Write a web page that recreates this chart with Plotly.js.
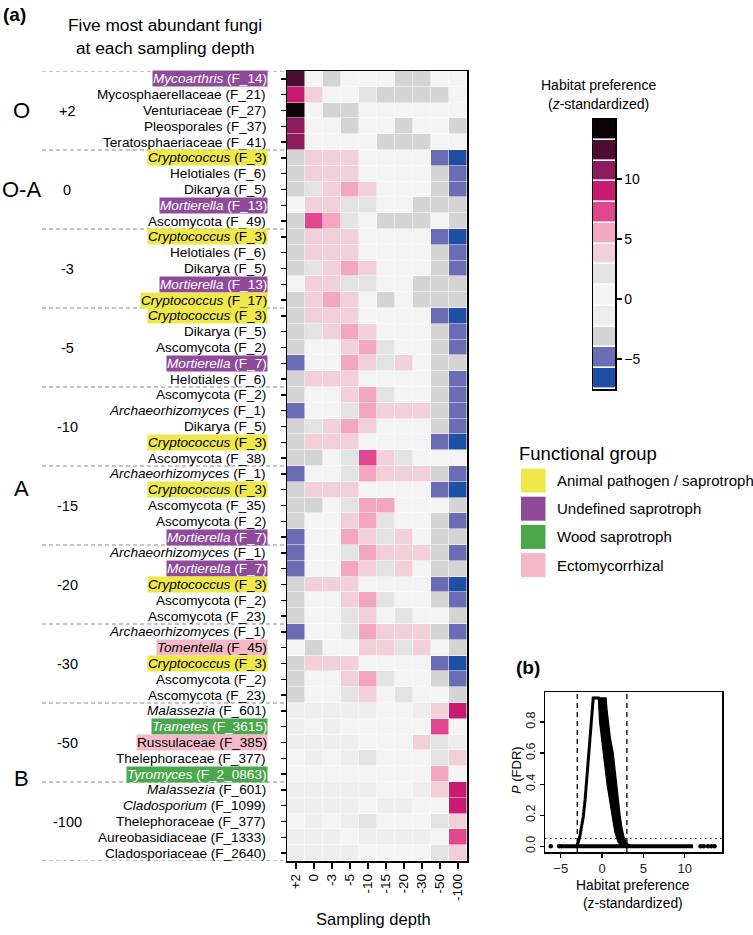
<!DOCTYPE html>
<html><head><meta charset="utf-8">
<script src="https://cdn.plot.ly/plotly-3.0.1.min.js"></script>
<style>html,body{margin:0;padding:0;background:#fff}#chart{width:753px;height:935px}</style>
</head><body><div id="chart"></div>
<script>
// ---------------- DATA ----------------
const depths = ["+2","0","-3","-5","-10","-15","-20","-30","-50","-100"];
const depthGroups = ["+2","0","-3","-5","-10","-15","-20","-30","-50","-100"];
const horizons = ["O","O-A","A","B"];

const taxa = [
"Mycoarthris","Mycosphaerellaceae","Venturiaceae","Pleosporales","Teratosphaeriaceae",
"Cryptococcus","Helotiales","Dikarya","Mortierella","Ascomycota",
"Cryptococcus","Helotiales","Dikarya","Mortierella","Cryptococcus",
"Cryptococcus","Dikarya","Ascomycota","Mortierella","Helotiales",
"Ascomycota","Archaeorhizomyces","Dikarya","Cryptococcus","Ascomycota",
"Archaeorhizomyces","Cryptococcus","Ascomycota","Ascomycota","Mortierella",
"Archaeorhizomyces","Mortierella","Cryptococcus","Ascomycota","Ascomycota",
"Archaeorhizomyces","Tomentella","Cryptococcus","Ascomycota","Ascomycota",
"Malassezia","Trametes","Russulaceae","Thelephoraceae","Tyromyces",
"Malassezia","Cladosporium","Thelephoraceae","Aureobasidiaceae","Cladosporiaceae"];
const otuIds = [
"F_14","F_21","F_27","F_37","F_41",
"F_3","F_6","F_5","F_13","F_49",
"F_3","F_6","F_5","F_13","F_17",
"F_3","F_5","F_2","F_7","F_6",
"F_2","F_1","F_5","F_3","F_38",
"F_1","F_3","F_35","F_2","F_7",
"F_1","F_7","F_3","F_2","F_23",
"F_1","F_45","F_3","F_2","F_23",
"F_601","F_3615","F_385","F_377","F_2_0863",
"F_601","F_1099","F_377","F_1333","F_2640"];
// functional group: A animal pathogen/saprotroph, U undefined saprotroph, W wood saprotroph, E ectomycorrhizal
const funcGroup = [
"U","","","","",
"A","","","U","",
"A","","","U","A",
"A","","","U","",
"","","","A","",
"","A","","","U",
"","U","A","","",
"","E","A","","",
"","W","E","","W",
"","","","",""];
const genera = ["Mycoarthris","Cryptococcus","Mortierella","Archaeorhizomyces","Tomentella",
"Malassezia","Trametes","Tyromyces","Cladosporium"];

// habitat preference (z-standardized), rows = fungi (top to bottom), cols = depths
const habitatZ = [
[12.4,0.3,-3.2,0.3,0.3,0.3,-3.2,-3.2,0.3,0.3],
[8.9,3.8,0.3,0.3,2.0,-3.2,-3.2,-3.2,-3.2,0.3],
[14.1,0.3,-3.2,-3.2,0.3,0.3,0.3,0.3,0.3,0.3],
[10.7,0.3,0.3,-3.2,0.3,0.3,-3.2,0.3,0.3,-3.2],
[10.7,0.3,0.3,0.3,0.3,-3.2,-3.2,-3.2,0.3,0.3],
[-3.2,3.8,3.8,3.8,0.3,0.3,0.3,0.3,-4.9,-6.6],
[-3.2,3.8,3.8,3.8,0.3,0.3,0.3,0.3,-3.2,-4.9],
[-3.2,2.0,3.8,5.5,3.8,0.3,0.3,0.3,-3.2,-4.9],
[0.3,3.8,3.8,2.0,2.0,0.3,0.3,-3.2,-3.2,-3.2],
[-3.2,7.2,5.5,2.0,0.3,-3.2,-3.2,-3.2,0.3,-3.2],
[-3.2,3.8,3.8,3.8,0.3,0.3,0.3,0.3,-4.9,-6.6],
[-3.2,3.8,3.8,3.8,0.3,0.3,0.3,0.3,-3.2,-4.9],
[-3.2,2.0,3.8,5.5,3.8,0.3,0.3,0.3,-3.2,-4.9],
[0.3,3.8,3.8,2.0,2.0,0.3,0.3,-3.2,-3.2,-3.2],
[-3.2,3.8,5.5,3.8,0.3,-3.2,0.3,-3.2,-3.2,-3.2],
[-3.2,3.8,3.8,3.8,0.3,0.3,0.3,0.3,-4.9,-6.6],
[-3.2,2.0,3.8,5.5,3.8,0.3,0.3,0.3,-3.2,-4.9],
[-3.2,0.3,0.3,3.8,5.5,2.0,0.3,0.3,-3.2,-4.9],
[-4.9,0.3,0.3,5.5,3.8,2.0,3.8,0.3,-3.2,-3.2],
[-3.2,3.8,3.8,3.8,0.3,0.3,0.3,0.3,-3.2,-4.9],
[-3.2,0.3,0.3,3.8,5.5,2.0,0.3,0.3,-3.2,-4.9],
[-4.9,0.3,0.3,2.0,5.5,3.8,3.8,3.8,-3.2,-4.9],
[-3.2,2.0,3.8,5.5,3.8,0.3,0.3,0.3,-3.2,-4.9],
[-3.2,3.8,3.8,3.8,0.3,0.3,0.3,0.3,-4.9,-6.6],
[-3.2,-3.2,0.3,2.0,7.2,3.8,2.0,0.3,0.3,0.3],
[-4.9,0.3,0.3,2.0,5.5,3.8,3.8,3.8,-3.2,-4.9],
[-3.2,3.8,3.8,3.8,0.3,0.3,0.3,0.3,-4.9,-6.6],
[-3.2,-3.2,0.3,2.0,5.5,5.5,0.3,0.3,0.3,-3.2],
[-3.2,0.3,0.3,3.8,5.5,2.0,0.3,0.3,-3.2,-4.9],
[-4.9,0.3,0.3,5.5,3.8,2.0,3.8,0.3,-3.2,-3.2],
[-4.9,0.3,0.3,2.0,5.5,3.8,3.8,3.8,-3.2,-4.9],
[-4.9,0.3,0.3,5.5,3.8,2.0,3.8,0.3,-3.2,-3.2],
[-3.2,3.8,3.8,3.8,0.3,0.3,0.3,0.3,-4.9,-6.6],
[-3.2,0.3,0.3,3.8,5.5,2.0,0.3,0.3,-3.2,-4.9],
[-3.2,0.3,0.3,2.0,3.8,0.3,2.0,0.3,0.3,-3.2],
[-4.9,0.3,0.3,2.0,5.5,3.8,3.8,3.8,-3.2,-4.9],
[0.3,-3.2,0.3,0.3,3.8,3.8,2.0,3.8,0.3,-3.2],
[-3.2,3.8,3.8,3.8,0.3,0.3,0.3,0.3,-4.9,-6.6],
[-3.2,0.3,0.3,3.8,5.5,2.0,0.3,0.3,-3.2,-4.9],
[-3.2,0.3,0.3,2.0,3.8,0.3,2.0,0.3,0.3,-3.2],
[-1.4,-1.4,-1.4,-1.4,-1.4,0.3,0.3,-1.4,3.8,8.9],
[-1.4,0.3,-1.4,0.3,0.3,0.3,0.3,0.3,7.2,0.3],
[-1.4,-1.4,-1.4,-1.4,0.3,0.3,0.3,3.8,2.0,-1.4],
[0.3,-1.4,0.3,-1.4,2.0,0.3,0.3,0.3,2.0,3.8],
[0.3,0.3,0.3,0.3,0.3,0.3,0.3,0.3,5.5,0.3],
[-1.4,-1.4,-1.4,-1.4,-1.4,0.3,0.3,-1.4,3.8,8.9],
[-1.4,-1.4,-1.4,-1.4,0.3,-1.4,-1.4,0.3,0.3,8.9],
[0.3,-1.4,0.3,-1.4,2.0,0.3,0.3,0.3,2.0,3.8],
[-1.4,-1.4,-1.4,0.3,-1.4,-1.4,-1.4,-1.4,0.3,7.2],
[-1.4,-1.4,-1.4,-1.4,0.3,0.3,0.3,0.3,2.0,3.8]];

// colour scale bins (z-standardized)
const binEdges = [-7.5,-5.77,-4.04,-2.31,-0.58,1.15,2.88,4.62,6.35,8.08,9.81,11.54,13.27,15];
const binColors = ["#1f4fa2","#6a6db4","#d4d4d4","#eeeeee","#f4f4f4","#e3e3e3","#f2d0da",
                   "#f3a6c0","#e0478f","#c81a70","#8e1b5e","#4c0c33","#0b0206"];
const cbTicks = [-5,0,5,10];

const legendLabels = ["Animal pathogen / saprotroph","Undefined saprotroph","Wood saprotroph","Ectomycorrhizal"];
const legendKeys = ["A","U","W","E"];

// panel (b): P(FDR) vs habitat preference
const leftEdgeZ = [-3.15,-3.0,-2.85,-2.7,-2.5,-2.27,-2.05,-1.9,-1.72,-1.56,-1.42,-1.27,-1.14,-1.07,-0.6,-0.3];
const leftEdgeP = [0.0,0.01,0.03,0.06,0.12,0.19,0.30,0.40,0.51,0.62,0.73,0.83,0.91,0.955,0.955,0.955];
const bandZ = [-0.45,0.48,0.6,0.77,1.0,1.35,1.55,1.78,1.98,2.18,2.4,2.65,3.0,3.5,2.3,1.9,1.55,1.25,0.9,0.6,0.35,0.15,-0.08,-0.3,-0.42,-0.45];
const bandP = [0.955,0.955,0.88,0.80,0.70,0.60,0.50,0.40,0.30,0.20,0.12,0.06,0.02,0.003,0.0,0.03,0.09,0.20,0.30,0.40,0.50,0.60,0.70,0.80,0.90,0.955];
const baseZ = [-4.7,11.0];
const baseP = [0,0];
const dotsZ = [-6.2,-5.2,-4.9,11.9,12.3,12.8,13.2,13.6];
const dotsP = [0,0,0,0,0,0,0,0];
const zCut = [-3,3];
const fdrCut = 0.05;

// ---------------- LAYOUT HELPERS ----------------
const W = 753, H = 935;
const px = x => x / W;
const py = y => 1 - y / H;
const FONT = "'Liberation Sans', Arial, sans-serif";
const groupColor = {A:"#efe84a", U:"#8f4a9c", W:"#4aa84c", E:"#f5b8c8"};
const groupText = {A:"#000", U:"#fff", W:"#fff", E:"#000"};

const rows = taxa.map((_, i) => i);
const nBins = binColors.length;
const colorscale = [];
binColors.forEach((c, i) => { colorscale.push([i / nBins, c]); colorscale.push([(i + 1) / nBins, c]); });
const binCenters = binColors.map((_, i) => (binEdges[i] + binEdges[i + 1]) / 2);

const traces = [
  { type: "heatmap", x: depths, y: rows, z: habitatZ, colorscale, zmin: binEdges[0], zmax: binEdges[nBins],
    showscale: false, xgap: 0.5, ygap: 0.5, xaxis: "x", yaxis: "y", hoverinfo: "skip" },
  { type: "heatmap", x: [0], y: binCenters, z: binCenters.map(v => [v]), colorscale,
    zmin: binEdges[0], zmax: binEdges[nBins], showscale: false, ygap: 1.6, xaxis: "x2", yaxis: "y2", hoverinfo: "skip" },
  { type: "scatter", mode: "lines", x: leftEdgeZ, y: leftEdgeP, line: {color: "#000", width: 3},
    xaxis: "x3", yaxis: "y3", hoverinfo: "skip", showlegend: false },
  { type: "scatter", mode: "lines", x: bandZ, y: bandP, fill: "toself", fillcolor: "#000",
    line: {color: "#000", width: 1.2}, xaxis: "x3", yaxis: "y3", hoverinfo: "skip", showlegend: false },
  { type: "scatter", mode: "lines", x: baseZ, y: baseP, line: {color: "#000", width: 4},
    xaxis: "x3", yaxis: "y3", hoverinfo: "skip", showlegend: false },
  { type: "scatter", mode: "markers", x: dotsZ, y: dotsP, marker: {color: "#000", size: 4.5},
    xaxis: "x3", yaxis: "y3", hoverinfo: "skip", showlegend: false }
];

const annotations = [];
const shapes = [];

// row labels
taxa.forEach((t, i) => {
  const name = genera.includes(t) ? `<i>${t}</i>` : t;
  const g = funcGroup[i];
  const a = { xref: "paper", yref: "y", x: px(268), y: i, xanchor: "right", yanchor: "middle",
    text: `${name} (${otuIds[i]})`, showarrow: false,
    font: {family: FONT, size: 13.6, color: g ? groupText[g] : "#000"} };
  if (g) { a.bgcolor = groupColor[g]; a.borderpad = 0; }
  annotations.push(a);
});

// depth labels
depthGroups.forEach((d, k) => {
  annotations.push({ xref: "paper", yref: "y", x: px(67), y: 2 + 5 * k, xanchor: "center", yanchor: "middle",
    text: d, showarrow: false, font: {family: FONT, size: 14.5, color: "#000"} });
});
// horizon labels
const horizonRow = [2, 7, 25.9, 44.3];
horizons.forEach((h, k) => {
  annotations.push({ xref: "paper", yref: "y", x: px(21), y: horizonRow[k], xanchor: "center", yanchor: "middle",
    text: h, showarrow: false, font: {family: FONT, size: 22, color: "#000"} });
});
// group dashed lines
for (let k = 0; k <= depthGroups.length; k++) {
  shapes.push({ type: "line", xref: "paper", yref: "y", x0: px(42), x1: px(287), y0: -0.5 + 5 * k, y1: -0.5 + 5 * k,
    line: {color: "#8a8a8a", width: 1, dash: "4px,3px"} });
}

// titles
annotations.push({ xref: "paper", yref: "paper", x: px(1), y: py(14), xanchor: "left", yanchor: "middle",
  text: "<b>(a)</b>", showarrow: false, font: {family: FONT, size: 19, color: "#000"} });
annotations.push({ xref: "paper", yref: "paper", x: px(165), y: py(25), xanchor: "center", yanchor: "middle",
  text: "Five most abundant fungi", showarrow: false, font: {family: FONT, size: 17.3, color: "#000"} });
annotations.push({ xref: "paper", yref: "paper", x: px(165), y: py(48), xanchor: "center", yanchor: "middle",
  text: "at each sampling depth", showarrow: false, font: {family: FONT, size: 17.3, color: "#000"} });
annotations.push({ xref: "paper", yref: "paper", x: px(373), y: py(919), xanchor: "center", yanchor: "middle",
  text: "Sampling depth", showarrow: false, font: {family: FONT, size: 16.5, color: "#000"} });

// colorbar title
annotations.push({ xref: "paper", yref: "paper", x: px(598), y: py(85), xanchor: "center", yanchor: "middle",
  text: "Habitat preference", showarrow: false, font: {family: FONT, size: 14, color: "#000"} });
annotations.push({ xref: "paper", yref: "paper", x: px(598), y: py(104), xanchor: "center", yanchor: "middle",
  text: "(<i>z</i>-standardized)", showarrow: false, font: {family: FONT, size: 14, color: "#000"} });

// functional group legend
annotations.push({ xref: "paper", yref: "paper", x: px(517), y: py(453), xanchor: "left", yanchor: "middle",
  text: "Functional group", showarrow: false, font: {family: FONT, size: 18.5, color: "#000"} });
legendLabels.forEach((lab, k) => {
  const yc = 480.5 + 28.2 * k;
  shapes.push({ type: "rect", xref: "paper", yref: "paper", x0: px(521), x1: px(545.5), y0: py(yc - 12), y1: py(yc + 12),
    fillcolor: groupColor[legendKeys[k]], line: {width: 0} });
  annotations.push({ xref: "paper", yref: "paper", x: px(555), y: py(yc), xanchor: "left", yanchor: "middle",
    text: lab, showarrow: false, font: {family: FONT, size: 15, color: "#000"} });
});

// panel (b) annotations & reference lines
annotations.push({ xref: "paper", yref: "paper", x: px(514), y: py(667), xanchor: "left", yanchor: "middle",
  text: "<b>(b)</b>", showarrow: false, font: {family: FONT, size: 19, color: "#000"} });
annotations.push({ xref: "paper", yref: "paper", x: px(516), y: py(770), xanchor: "center", yanchor: "middle",
  text: "<i>P</i> (FDR)", textangle: -90, showarrow: false, font: {family: FONT, size: 13, color: "#000"} });
annotations.push({ xref: "paper", yref: "paper", x: px(633), y: py(885), xanchor: "center", yanchor: "middle",
  text: "Habitat preference", showarrow: false, font: {family: FONT, size: 13.8, color: "#000"} });
annotations.push({ xref: "paper", yref: "paper", x: px(633), y: py(903), xanchor: "center", yanchor: "middle",
  text: "(z-standardized)", showarrow: false, font: {family: FONT, size: 13.8, color: "#000"} });
zCut.forEach(v => shapes.push({ type: "line", xref: "x3", yref: "y3 domain", x0: v, x1: v, y0: 0, y1: 1,
  line: {color: "#000", width: 1.3, dash: "5px,4px"} }));
shapes.push({ type: "line", xref: "x3 domain", yref: "y3", x0: 0, x1: 1, y0: fdrCut, y1: fdrCut,
  line: {color: "#000", width: 1.2, dash: "1.5px,3.5px"} });

const axBase = { showgrid: false, zeroline: false, showline: true, mirror: true, linecolor: "#000",
  linewidth: 1.5, fixedrange: true };

const layout = {
  width: W, height: H, margin: {l: 0, r: 0, t: 0, b: 0}, paper_bgcolor: "#fff", plot_bgcolor: "#fff",
  showlegend: false, font: {family: FONT, color: "#000"},
  xaxis: Object.assign({}, axBase, { domain: [px(287), px(467)], anchor: "y", type: "category",
    ticks: "outside", ticklen: 6, tickwidth: 1.3, tickcolor: "#000", tickangle: -90,
    tickfont: {family: FONT, size: 13.5, color: "#000"} }),
  yaxis: Object.assign({}, axBase, { domain: [py(861), py(71)], anchor: "x", range: [49.5, -0.5],
    tickvals: rows, ticks: "outside", ticklen: 5, tickwidth: 1.3, tickcolor: "#000", showticklabels: false }),
  xaxis2: Object.assign({}, axBase, { domain: [px(593), px(615)], anchor: "y2", showticklabels: false, ticks: "",
    range: [-0.5, 0.5] }),
  yaxis2: Object.assign({}, axBase, { domain: [py(389), py(119)], anchor: "x2", side: "right",
    range: [binEdges[0], binEdges[nBins]], tickvals: cbTicks, ticks: "outside", ticklen: 5, tickwidth: 1.3,
    tickcolor: "#000", tickfont: {family: FONT, size: 14, color: "#000"} }),
  xaxis3: Object.assign({}, axBase, { domain: [px(545), px(722)], anchor: "y3", range: [-6.9, 14.5],
    tickvals: [-5, 0, 5, 10], ticks: "outside", ticklen: 4, tickwidth: 1.2, tickcolor: "#000",
    tickfont: {family: FONT, size: 13, color: "#222"} }),
  yaxis3: Object.assign({}, axBase, { domain: [py(852), py(692)], anchor: "x3", range: [-0.037, 0.993],
    tickvals: [0, 0.2, 0.4, 0.6, 0.8], tickformat: ".1f", tickangle: -90, ticks: "outside", ticklen: 4,
    tickwidth: 1.2, tickcolor: "#000", tickfont: {family: FONT, size: 12.5, color: "#222"} }),
  annotations, shapes
};

Plotly.newPlot("chart", traces, layout, {displayModeBar: false, staticPlot: true});
</script>
</body></html>
